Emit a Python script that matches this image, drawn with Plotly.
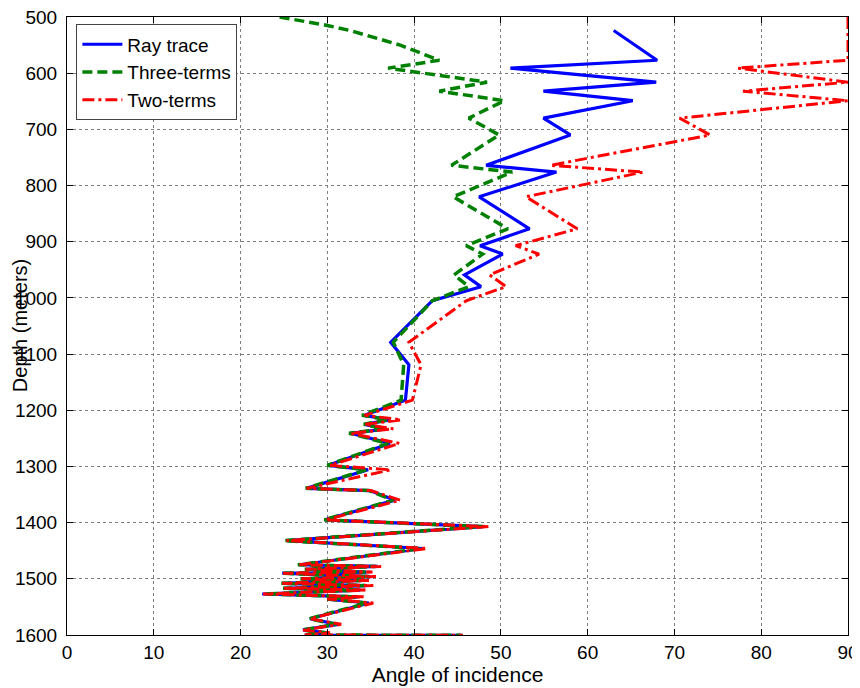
import plotly.graph_objects as go

# Depth (m) shared by the three curves
depth = [500, 515, 524, 550, 577, 591, 616, 632, 649, 680, 710, 764, 776, 820, 877, 907,
         922, 959, 980, 1005, 1079, 1119, 1182, 1209, 1217, 1225, 1233, 1241, 1259, 1298,
         1306, 1339, 1343, 1360, 1395, 1407, 1432, 1446, 1475, 1478, 1483, 1488, 1490,
         1496, 1500, 1503, 1508, 1512, 1517, 1520, 1527, 1532, 1536, 1543, 1571, 1581,
         1591, 1596, 1600, 1600.5]

ray_trace = [None, None, 63.0, 65.5, 68.0, 51.1, 67.9, 54.9, 65.2, 54.9, 58.0, 48.3, 56.4,
             47.5, 53.3, 47.6, 50.2, 45.8, 47.7, 42.1, 37.3, 39.4, 39.0, 34.3, 37.2, 34.3,
             36.8, 32.7, 37.2, 30.1, 34.7, 27.6, 34.9, 37.8, 29.7, 48.0, 25.3, 41.0, 26.8,
             35.8, 27.5, 34.5, 24.8, 35.0, 27.0, 34.0, 24.8, 34.5, 25.0, 33.8, 22.5, 33.5,
             30.0, 34.8, 28.0, 31.2, 27.2, 29.9, 27.4, 45.6]

three_terms = [24.5, 30.0, 32.6, 38.4, 42.9, 37.0, 48.4, 42.9, 50.4, 46.3, 49.8, 44.3, 51.3,
               44.5, 50.8, 46.0, 47.9, 44.6, 46.3, 42.1, 37.6, 38.8, 38.5, 34.0, 37.0, 34.2,
               36.6, 32.5, 37.0, 30.0, 34.5, 27.5, 34.8, 37.6, 29.6, 47.8, 25.0, 40.8, 26.6,
               35.6, 27.4, 34.4, 24.7, 34.8, 26.9, 33.9, 24.7, 34.3, 24.9, 33.6, 22.8, 33.3,
               29.9, 34.6, 27.9, 31.0, 27.1, 29.8, 27.3, 45.4]

two_terms = [90.0, 90.0, 90.0, 90.0, 90.0, 77.3, 90.0, 77.9, 90.0, 70.6, 74.1, 55.7, 66.4,
             52.9, 58.8, 51.7, 54.4, 48.7, 50.6, 46.0, 39.4, 40.8, 39.8, 34.3, 38.5, 34.3,
             37.6, 32.7, 38.3, 30.3, 37.3, 27.6, 35.0, 38.4, 29.8, 48.6, 25.3, 41.5, 26.8,
             36.2, 27.5, 35.2, 24.9, 35.6, 27.0, 34.8, 24.8, 35.3, 25.0, 34.6, 22.6, 34.2,
             30.0, 35.3, 28.0, 31.6, 27.2, 30.3, 27.4, 45.6]

x_ticks = [0, 10, 20, 30, 40, 50, 60, 70, 80, 90]
y_ticks = [500, 600, 700, 800, 900, 1000, 1100, 1200, 1300, 1400, 1500, 1600]

FONT = "Liberation Sans, Arial, sans-serif"

fig = go.Figure()
fig.add_trace(go.Scatter(x=ray_trace, y=depth, mode="lines", name="Ray trace",
                         line=dict(color="#0000ff", width=3.2)))
fig.add_trace(go.Scatter(x=three_terms, y=depth, mode="lines", name="Three-terms",
                         line=dict(color="#008000", width=3.5, dash="10px,5px")))
fig.add_trace(go.Scatter(x=two_terms, y=depth, mode="lines", name="Two-terms",
                         line=dict(color="#ff0000", width=3, dash="12px,4px,3px,4px")))

axis_common = dict(
    showline=True, linecolor="black", linewidth=1, mirror="ticks",
    ticks="inside", ticklen=6, tickcolor="black", tickwidth=1,
    showgrid=True, gridcolor="#7f7f7f", gridwidth=1, griddash="dot",
    zeroline=False, automargin=False, ticklabeloverflow="allow",
    tickfont=dict(family=FONT, size=19, color="black"),
)

# the page body has an 8px margin, so the margins below compensate for it
fig.update_layout(
    width=860, height=688,
    margin=dict(l=59, r=20, t=9, b=61),
    paper_bgcolor="white", plot_bgcolor="white",
    font=dict(family=FONT, color="black"),
    xaxis=dict(range=[0, 90], tickvals=x_ticks, ticktext=[str(v) for v in x_ticks],
               title=dict(text="Angle of incidence", font=dict(family=FONT, size=21), standoff=1),
               **axis_common),
    yaxis=dict(range=[1600, 500], tickvals=y_ticks, ticktext=[str(v) for v in y_ticks],
               ticklabelstandoff=5, **axis_common),
    legend=dict(x=0.012, y=0.988, xanchor="left", yanchor="top",
                bgcolor="white", bordercolor="#444", borderwidth=1,
                font=dict(family=FONT, size=19, color="black"),
                tracegroupgap=0, itemwidth=40),
    showlegend=True,
    annotations=[dict(text="Depth (meters)", textangle=-90, x=-0.060, y=0.5,
                      xref="paper", yref="paper", showarrow=False,
                      xanchor="center", yanchor="middle",
                      font=dict(family=FONT, size=20, color="black"))],
)

fig.write_html("out.html")
